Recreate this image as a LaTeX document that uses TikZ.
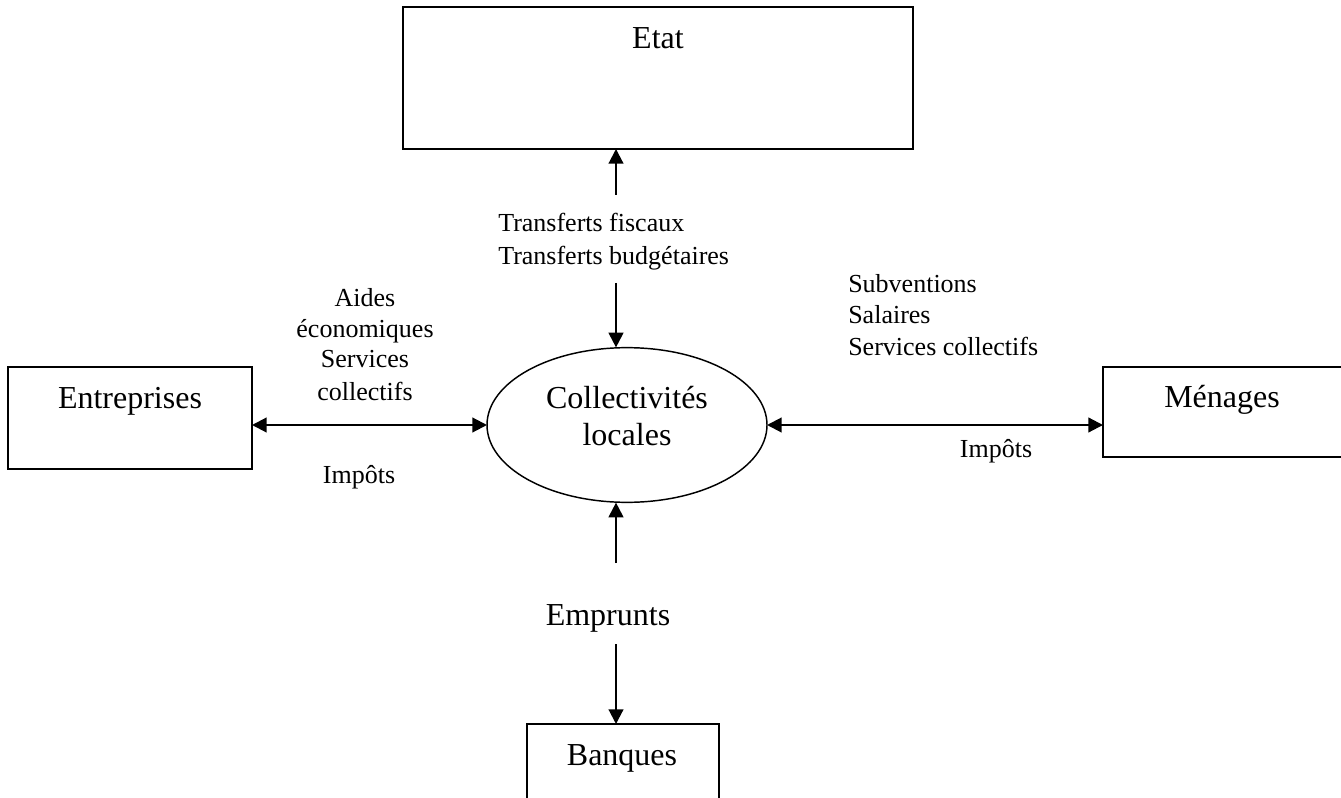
\documentclass[tikz,border=0pt]{standalone}
\usepackage{fontspec}
\setmainfont{Liberation Serif}
\usetikzlibrary{arrows.meta,shapes.geometric}
\begin{document}
\begin{tikzpicture}[x=0.75pt,y=-0.75pt,
  box/.style={draw=black,line width=1.5pt,rectangle,inner sep=0pt,outer sep=0pt},
  oval/.style={draw=black,line width=1.1pt,ellipse,inner sep=0pt,outer sep=0pt},
  big/.style={inner sep=0pt,font=\fontsize{24pt}{28pt}\selectfont},
  small/.style={inner sep=0pt,font=\fontsize{19.5pt}{23pt}\selectfont},
  flow/.style={line width=1.6pt,-{Triangle[length=11pt,width=11pt]}},
  flow2/.style={line width=1.6pt,{Triangle[length=11pt,width=11pt]}-{Triangle[length=11pt,width=11pt]}}]
\useasboundingbox (0,0) rectangle (1341,798);
\fill[white] (0,0) rectangle (1341,798);

% boxes
\node[box,minimum width=382.5pt,minimum height=106.5pt] (etat) at (658,78) {};
\node[box,minimum width=183pt,minimum height=76.5pt] (ent) at (130,418) {};
\node[box,minimum width=181.5pt,minimum height=67.5pt] (men) at (1224,412) {};
\node[box,minimum width=144pt,minimum height=79.5pt] (ban) at (623,777) {};
\node[oval,minimum width=210pt,minimum height=116pt] (coll) at (627,425) {};

% box texts
\node[big,anchor=base] (etatt) at (658,49) {Etat};
\node[big,anchor=base] (entt) at (130,408) {Entreprises};
\node[big,anchor=base] (ment) at (1222,407) {Ménages};
\node[big,anchor=base] (bant) at (622,765) {Banques};
\node[big,anchor=base] (coll1) at (627,408) {Collectivités};
\node[big,anchor=base] (coll2) at (627,445) {locales};
\node[big,anchor=base] (empr) at (608,625) {Emprunts};

% labels
\node[small,anchor=base west] (tf1) at (498,232) {Transferts fiscaux};
\node[small,anchor=base west] (tf2) at (498,265) {Transferts budgétaires};
\node[small,anchor=base west] (r1) at (848,293) {Subventions};
\node[small,anchor=base west] (r2) at (848,324) {Salaires};
\node[small,anchor=base west] (r3) at (848,355) {Services collectifs};
\node[small,anchor=base] (l1) at (365,307) {Aides};
\node[small,anchor=base] (l2) at (365,338) {économiques};
\node[small,anchor=base] (l3) at (365,368) {Services};
\node[small,anchor=base] (l4) at (365,400) {collectifs};
\node[small,anchor=base] (impl) at (359,483) {Impôts};
\node[small,anchor=base] (impr) at (996,457) {Impôts};

% connectors
\coordinate (a1) at (616,195);
\coordinate (a2) at (616,283);
\coordinate (a3) at (616,563);
\coordinate (a4) at (616,644);
\draw[flow] (a1) -- (a1 |- etat.south);
\draw[flow] (a2) -- ([yshift=0.2pt]a2 |- coll.north);
\draw[flow] (a3) -- ([yshift=-0.2pt]a3 |- coll.south);
\draw[flow] (a4) -- (a4 |- ban.north);
\draw[flow2] (ent.east |- coll.west) -- (coll.west);
\draw[flow2] (coll.east) -- (men.west |- coll.east);
\end{tikzpicture}
\end{document}
